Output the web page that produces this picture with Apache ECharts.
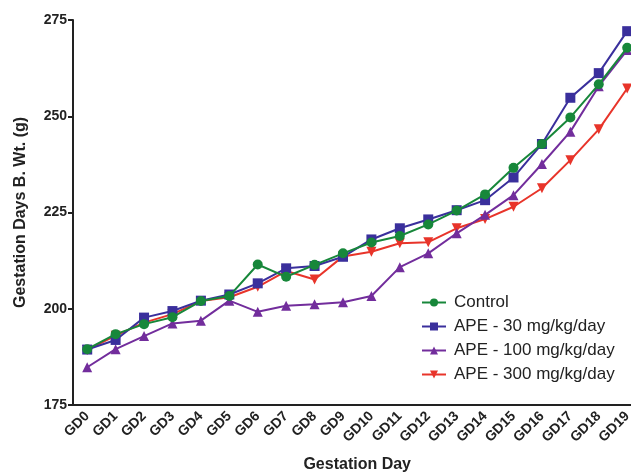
<!DOCTYPE html>
<html>
<head>
<meta charset="utf-8">
<script src="https://cdn.jsdelivr.net/npm/echarts@6/dist/echarts.min.js"></script>
<style>html,body{margin:0;padding:0;background:#fff;}#c{width:631px;height:474px;}</style>
</head>
<body>
<div id="c"></div>
<script>
const categories = ['GD0','GD1','GD2','GD3','GD4','GD5','GD6','GD7','GD8','GD9','GD10','GD11','GD12','GD13','GD14','GD15','GD16','GD17','GD18','GD19'];
const control = [189.5,193.4,196.0,197.8,202.0,203.3,211.5,208.3,211.4,214.4,217.2,218.9,221.9,225.5,229.7,236.6,242.8,249.7,258.3,267.8];
const ape30   = [189.4,191.9,197.7,199.4,202.1,203.7,206.6,210.5,211.1,213.5,218.0,220.9,223.2,225.6,228.2,234.1,242.8,254.8,261.2,272.1];
const ape100  = [184.8,189.5,192.9,196.2,196.9,202.1,199.2,200.8,201.2,201.7,203.3,210.8,214.4,219.6,224.4,229.5,237.6,246.0,257.8,267.2];
const ape300  = [189.3,193.0,196.4,198.6,202.0,203.0,205.7,209.8,207.6,213.6,214.8,217.0,217.3,220.9,223.3,226.5,231.3,238.6,246.6,257.2];
const seriesNames = ['Control','APE - 30 mg/kg/day','APE - 100 mg/kg/day','APE - 300 mg/kg/day'];
const yTicks = [175,200,225,250,275];

const font = 'Liberation Sans, Arial, sans-serif';
const colors = ['#17873a','#3a2f9c','#722d9c','#e8342a'];
const symbols = ['circle','rect','triangle','path://M0,0 L10,0 L5,10 Z'];
const sizes = [10,10,10,10];
const dataArr = [control, ape30, ape100, ape300];

const chart = echarts.init(document.getElementById('c'));
chart.setOption({
  animation: false,
  backgroundColor: '#fff',
  grid: {left: 73, top: 20, bottom: 69, right: -10.4, containLabel: false, outerBoundsMode: 'none'},
  legend: {
    orient: 'vertical', left: 416, top: 289,
    itemWidth: 24, itemHeight: 10, itemGap: 7,
    textStyle: {fontFamily: font, fontSize: 17, color: '#222', padding: [0,0,0,3]},
    data: seriesNames
  },
  xAxis: {
    type: 'category', data: categories, boundaryGap: true,
    name: 'Gestation Day', nameLocation: 'middle', nameGap: 52,
    nameTextStyle: {fontFamily: font, fontSize: 16, fontWeight: 'bold', color: '#222'},
    axisLine: {lineStyle: {color: '#222', width: 2}},
    axisTick: {alignWithLabel: true, length: 5, lineStyle: {color: '#222', width: 2}},
    axisLabel: {rotate: 45, fontFamily: font, fontSize: 14, fontWeight: 'bold', color: '#222', margin: 9, interval: 0},
    splitLine: {show: false}
  },
  yAxis: {
    type: 'value', min: 175, max: 275, interval: 25,
    name: 'Gestation Days B. Wt. (g)', nameLocation: 'middle', nameGap: 44, nameRotate: 90,
    nameTextStyle: {fontFamily: font, fontSize: 16, fontWeight: 'bold', color: '#222'},
    axisLine: {show: true, lineStyle: {color: '#222', width: 2}},
    axisTick: {show: true, length: 5, lineStyle: {color: '#222', width: 2}},
    axisLabel: {fontFamily: font, fontSize: 14, fontWeight: 'bold', color: '#222', margin: 6,
      formatter: v => yTicks.includes(v) ? String(v) : ''},
    splitLine: {show: false}
  },
  series: seriesNames.map((n, i) => ({
    name: n, type: 'line', data: dataArr[i],
    symbol: symbols[i], symbolSize: sizes[i], showSymbol: true,
    lineStyle: {color: colors[i], width: 2},
    itemStyle: {color: colors[i]},
    z: 10 - i
  }))
});
</script>
</body>
</html>
